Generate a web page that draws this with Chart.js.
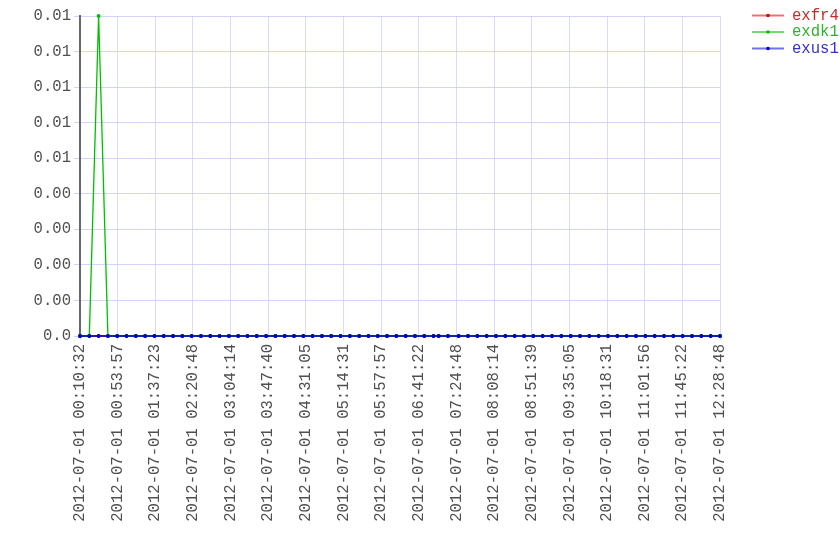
<!DOCTYPE html>
<html>
<head>
<meta charset="utf-8">
<script src="https://cdn.jsdelivr.net/npm/chart.js@4/dist/chart.umd.min.js"></script>
<style>
html,body{margin:0;padding:0;background:#fff;}
#wrap{width:840px;height:560px;}
</style>
</head>
<body>
<div id="wrap"><canvas id="c" width="840" height="560"></canvas></div>
<script>
const dateStr = "2012-07-01";
const categories = [
"00:10:32","00:21:16","00:32:00","00:42:44","00:53:28","01:04:12","01:14:56","01:25:40","01:36:24","01:47:08",
"01:57:52","02:08:36","02:19:20","02:30:04","02:40:48","02:51:32","03:02:16","03:13:00","03:23:44","03:34:28",
"03:45:12","03:55:56","04:06:40","04:17:24","04:28:08","04:38:52","04:49:36","05:00:20","05:11:04","05:21:48",
"05:32:32","05:43:16","05:54:00","06:04:44","06:15:28","06:26:12","06:36:56","06:47:40","06:58:24","07:04:18",
"07:15:02","07:27:20","07:38:06","07:48:52","07:59:38","08:10:24","08:21:10","08:31:56","08:42:42","08:53:28",
"09:04:14","09:15:00","09:25:46","09:36:32","09:47:18","09:58:04","10:08:50","10:19:36","10:30:22","10:41:08",
"10:51:54","11:02:40","11:13:26","11:24:12","11:34:58","11:45:44","11:56:30","12:07:16","12:18:02","12:28:48"
];
const exfr4 = [
0,0,0,0,0,0,0,0,0,0,
0,0,0,0,0,0,0,0,0,0,
0,0,0,0,0,0,0,0,0,0,
0,0,0,0,0,0,0,0,0,0,
0,0,0,0,0,0,0,0,0,0,
0,0,0,0,0,0,0,0,0,0,
0,0,0,0,0,0,0,0,0,0
];
const exdk1 = [
0,0,0.01,0,0,0,0,0,0,0,
0,0,0,0,0,0,0,0,0,0,
0,0,0,0,0,0,0,0,0,0,
0,0,0,0,0,0,0,0,0,0,
0,0,0,0,0,0,0,0,0,0,
0,0,0,0,0,0,0,0,0,0,
0,0,0,0,0,0,0,0,0,0
];
const exus1 = [
0,0,0,0,0,0,0,0,0,0,
0,0,0,0,0,0,0,0,0,0,
0,0,0,0,0,0,0,0,0,0,
0,0,0,0,0,0,0,0,0,0,
0,0,0,0,0,0,0,0,0,0,
0,0,0,0,0,0,0,0,0,0,
0,0,0,0,0,0,0,0,0,0
];
const xTickLabels = [
"2012-07-01 00:10:32","2012-07-01 00:53:57","2012-07-01 01:37:23","2012-07-01 02:20:48",
"2012-07-01 03:04:14","2012-07-01 03:47:40","2012-07-01 04:31:05","2012-07-01 05:14:31",
"2012-07-01 05:57:57","2012-07-01 06:41:22","2012-07-01 07:24:48","2012-07-01 08:08:14",
"2012-07-01 08:51:39","2012-07-01 09:35:05","2012-07-01 10:18:31","2012-07-01 11:01:56",
"2012-07-01 11:45:22","2012-07-01 12:28:48"
];
const yTickLabels = ["0.0","0.00","0.00","0.00","0.00","0.01","0.01","0.01","0.01","0.01"];
const yMax = 0.01;

function toSec(t){const p=t.trim().split(/\s+/).pop().split(':').map(Number);return p[0]*3600+p[1]*60+p[2];}
function pts(arr){return categories.map((t,i)=>({x:toSec(t),y:arr[i]}));}

const seriesDefs = [
  {label:"exfr4", data:exfr4, color:"#dd0000", text:"#d02828", legendLine:"rgba(221,40,40,0.65)", order:3},
  {label:"exdk1", data:exdk1, color:"#00c000", text:"#30b030", legendLine:"rgba(40,200,40,0.65)", order:2},
  {label:"exus1", data:exus1, color:"#0000cc", text:"#3434c4", legendLine:"rgba(40,40,210,0.65)", order:1}
];

const FONT_SIZE = 15.6;
Chart.defaults.font.family = "'Liberation Mono', monospace";
Chart.defaults.font.size = FONT_SIZE;
Chart.defaults.color = "#505050";

const legendPlugin = {
  id:'sideLegend',
  afterDraw(chart){
    const ctx = chart.ctx;
    ctx.save();
    ctx.font = FONT_SIZE + "px 'Liberation Mono', monospace";
    ctx.textBaseline = 'middle';
    ctx.textAlign = 'left';
    chart.data.datasets.forEach((ds,i)=>{
      const y = 15.5 + i*16.5;
      ctx.strokeStyle = ds.legendLine;
      ctx.lineWidth = 2;
      ctx.beginPath(); ctx.moveTo(752,y); ctx.lineTo(784,y); ctx.stroke();
      ctx.fillStyle = ds.borderColor;
      ctx.beginPath(); ctx.arc(768,y,1.8,0,Math.PI*2); ctx.fill();
      ctx.fillStyle = ds.legendText;
      ctx.fillText(ds.label, 792, y);
    });
    ctx.restore();
  }
};

new Chart(document.getElementById('c'), {
  type:'line',
  data:{
    datasets: seriesDefs.map(s=>({
      label:s.label, data:pts(s.data), borderColor:s.color, backgroundColor:s.color,
      legendText:s.text, legendLine:s.legendLine,
      borderWidth:1.3, pointRadius:1.9, pointHoverRadius:1.9, pointBorderWidth:0,
      tension:0, fill:false, order:s.order, clip:4
    }))
  },
  options:{
    responsive:false, animation:false,
    layout:{padding:{top:16,right:120,left:0,bottom:0}},
    plugins:{legend:{display:false}, tooltip:{enabled:false}},
    scales:{
      x:{
        type:'linear',
        min: toSec(xTickLabels[0]),
        max: toSec(xTickLabels[xTickLabels.length-1]),
        afterBuildTicks(scale){
          scale.ticks = xTickLabels.map(l=>({value:toSec(l)}));
        },
        afterFit(scale){ scale.height = 224; },
        ticks:{autoSkip:false, minRotation:90, maxRotation:90, padding:4,
          callback:(v,i)=>xTickLabels[i]},
        grid:{color:'rgba(205,205,250,0.75)', lineWidth:1, tickLength:4},
        border:{display:false}
      },
      y:{
        min:0, max:yMax,
        afterBuildTicks(scale){
          const n = yTickLabels.length-1;
          scale.ticks = yTickLabels.map((l,i)=>({value: yMax*i/n}));
        },
        afterFit(scale){ scale.width = 80; },
        ticks:{autoSkip:false, padding:3, callback:(v,i)=>yTickLabels[i]},
        grid:{color:'rgba(205,205,250,0.85)', lineWidth:1, tickLength:6},
        border:{display:true, color:'#66666e', width:2}
      }
    }
  },
  plugins:[legendPlugin]
});
</script>
</body>
</html>
